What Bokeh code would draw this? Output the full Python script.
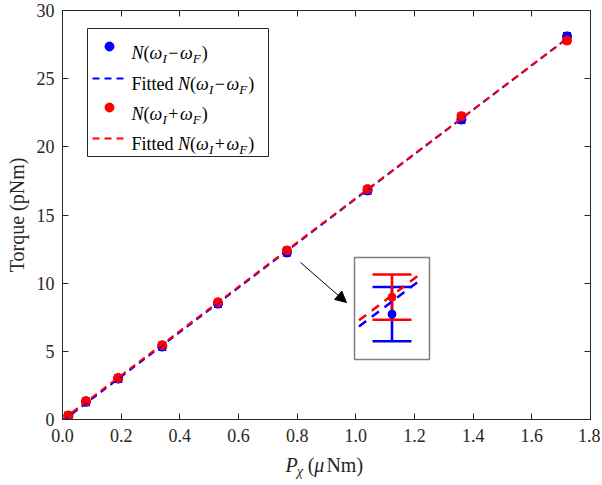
import numpy as np
from bokeh.plotting import figure
from bokeh.layouts import column
from bokeh.models import LinearAxis, FixedTicker, Range1d, Label, Arrow, NormalHead
from bokeh.embed import file_html
from bokeh.resources import INLINE

# ---------------- data ----------------
power = [0.02, 0.08, 0.19, 0.34, 0.53, 0.765, 1.04, 1.36, 1.72]          # P_chi (uNm)
torque_minus = [0.25, 1.30, 3.00, 5.35, 8.50, 12.25, 16.80, 22.00, 28.10]  # N(wI-wF)
torque_plus = [0.30, 1.35, 3.05, 5.45, 8.60, 12.40, 16.90, 22.25, 27.80]   # N(wI+wF)
err_minus = [0.24, 0.24, 0.24, 0.24, 0.24, 0.24, 0.24, 0.24, 0.24]
err_plus = [0.20, 0.20, 0.20, 0.20, 0.20, 0.20, 0.20, 0.20, 0.20]
x_ticks = [0.0, 0.2, 0.4, 0.6, 0.8, 1.0, 1.2, 1.4, 1.6, 1.8]
x_tick_labels = ["0.0", "0.2", "0.4", "0.6", "0.8", "1.0", "1.2", "1.4", "1.6", "1.8"]
y_ticks = [0, 5, 10, 15, 20, 25, 30]
inset_index = 5            # point shown zoomed in the inset

# ---------------- layout / style ----------------
FONT = "Liberation Serif"
AX = "#262626"
BLUE = "#0000ff"
RED = "#ff0000"
X0, X1, Y0, Y1 = 0.0, 1.8, 0.0, 30.0
W = 600
H_MAIN, H_STRIP = 452, 32
FL, FT, FR, FB = 62, 10, 590, 419      # frame edges on the canvas (px)
FW, FH = FR - FL, FB - FT


def dx(px):
    return X0 + (px - FL) / FW * (X1 - X0)


def dy(py):
    return Y0 + (FB - py) / FH * (Y1 - Y0)


p = figure(width=W, height=H_MAIN, x_range=Range1d(X0, X1), y_range=Range1d(Y0, Y1),
           output_backend="svg", toolbar_location=None, title=None,
           min_border_left=FL, min_border_right=W - FR, min_border_top=FT,
           min_border_bottom=H_MAIN - FB)
p.xgrid.visible = False
p.ygrid.visible = False
p.outline_line_color = AX
p.outline_line_width = 1
p.background_fill_color = "white"
p.border_fill_color = "white"


def style_axis(ax, ticks, labels=True):
    ax.ticker = FixedTicker(ticks=ticks)
    ax.major_tick_in = 6
    ax.major_tick_out = 0
    ax.minor_tick_line_color = None
    ax.axis_line_color = AX
    ax.major_tick_line_color = AX
    ax.major_label_text_font = FONT
    ax.major_label_text_color = AX
    if labels:
        ax.major_label_text_font_size = "18px"
    else:
        ax.major_label_overrides = {t: "" for t in ticks}
        ax.major_label_text_font_size = "1px"
        ax.major_label_standoff = 0


style_axis(p.xaxis[0], x_ticks)
p.xaxis[0].major_label_overrides = {t: s for t, s in zip(x_ticks, x_tick_labels)}
p.xaxis[0].major_label_standoff = 9
style_axis(p.yaxis[0], y_ticks)
p.yaxis[0].major_label_standoff = 8
p.yaxis[0].axis_label = "Torque (pNm)"
p.yaxis[0].axis_label_text_font = FONT
p.yaxis[0].axis_label_text_font_style = "normal"
p.yaxis[0].axis_label_text_font_size = "20px"
p.yaxis[0].axis_label_text_color = AX
p.yaxis[0].axis_label_standoff = 6

top_ax = LinearAxis()
style_axis(top_ax, x_ticks, labels=False)
p.add_layout(top_ax, "above")
right_ax = LinearAxis()
style_axis(right_ax, y_ticks, labels=False)
p.add_layout(right_ax, "right")

# ---------------- linear least-squares fits ----------------
k_minus, b_minus = np.polyfit(power, torque_minus, 1)
k_plus, b_plus = np.polyfit(power, torque_plus, 1)
fit_x = [0.0, max(power)]


def fit_minus(v):
    return k_minus * v + b_minus


def fit_plus(v):
    return k_plus * v + b_plus


def draw_bars(xs, ys, es, color, cap, bar_w):
    lo = [y - e for y, e in zip(ys, es)]
    hi = [y + e for y, e in zip(ys, es)]
    p.segment(x0=xs, y0=lo, x1=xs, y1=hi, line_color=color, line_width=bar_w)
    p.scatter(x=list(xs) + list(xs), y=lo + hi, marker="dash", size=cap, line_color=color,
              line_width=bar_w)


# main error bars and points
draw_bars(power, torque_minus, err_minus, BLUE, 8, 2.2)
draw_bars(power, torque_plus, err_plus, RED, 8, 2.2)
p.scatter(power, torque_minus, size=9, color=BLUE)
p.scatter(power, torque_plus, size=9, color=RED)
p.line(fit_x, [fit_minus(v) for v in fit_x], line_color=BLUE, line_width=2, line_dash="7 5")
p.line(fit_x, [fit_plus(v) for v in fit_x], line_color=RED, line_width=2, line_dash="7 5")

# ---------------- inset (zoom of one point) ----------------
BOX_L, BOX_R, BOX_T, BOX_B = 354, 429, 257, 359
ZOOM = 8.3
xc, yc = power[inset_index], 12.30
bxc, byc = dx((BOX_L + BOX_R) / 2), dy((BOX_T + BOX_B) / 2)


def ix(v):
    return bxc + (v - xc) * ZOOM


def iy(v):
    return byc + (v - yc) * ZOOM


p.quad(left=[dx(BOX_L)], right=[dx(BOX_R)], top=[dy(BOX_T)], bottom=[dy(BOX_B)],
       fill_color="white", line_color="#7f7f7f", line_width=1.5)
xi = power[inset_index]
for ys, es, col in ((torque_minus, err_minus, BLUE), (torque_plus, err_plus, RED)):
    y, e = ys[inset_index], es[inset_index]
    p.segment(x0=[ix(xi)], y0=[iy(y - e)], x1=[ix(xi)], y1=[iy(y + e)], line_color=col, line_width=2.6)
    p.scatter(x=[ix(xi), ix(xi)], y=[iy(y - e), iy(y + e)], marker="dash", size=39,
              line_color=col, line_width=2.6)
p.scatter([ix(xi)], [iy(torque_minus[inset_index])], size=8, color=BLUE)
p.scatter([ix(xi)], [iy(torque_plus[inset_index])], size=8, color=RED)
half_w = (dx(BOX_R) - dx(BOX_L)) / 2 / ZOOM
seg_x = [xc - 0.88 * half_w, xc + 0.82 * half_w]
for f, col in ((fit_minus, BLUE), (fit_plus, RED)):
    p.line([ix(v) for v in seg_x], [iy(f(v)) for v in seg_x], line_color=col, line_width=2.5,
           line_dash="9 7")

p.add_layout(Arrow(end=NormalHead(size=11, fill_color="black", line_color="black"),
                   x_start=dx(300), y_start=dy(262), x_end=dx(346), y_end=dy(302),
                   line_color="black", line_width=1))

# ---------------- rich text helper ----------------
REG = {'F': .556, 'i': .278, 't': .278, 'e': .444, 'd': .5, ' ': .25, '(': .333, ')': .333,
       '−': .564, '+': .564, 'N': .722, 'm': .778, 'μ': .576, 'p': .5}
ITA = {'N': .667, 'ω': .69, 'I': .333, 'F': .611, 'P': .611, 'χ': .55, 'μ': .58}


def rich(fig, mx, my, x_px, base_px, pieces, size, color):
    x = x_px
    for text, italic, sub, pad in pieces:
        fs = size * 0.72 if sub else size
        shift = size * 0.33 if sub else 0
        x += pad
        fig.add_layout(Label(x=mx(x), y=my(base_px + shift), text=text, text_font=FONT,
                             text_font_size=f"{fs:.1f}px",
                             text_font_style="italic" if italic else "normal",
                             text_color=color, text_align="left", text_baseline="alphabetic"))
        table = ITA if italic else REG
        x += sum(table.get(c, 0.5) for c in text) * fs


def n_label(sign):
    return [("N", True, False, 0), ("(", False, False, 0), ("ω", True, False, 0),
            ("I", True, True, 0.5), (sign, False, False, 1.5), ("ω", True, False, 1.5),
            ("F", True, True, 0.5), (")", False, False, 1)]


# ---------------- legend ----------------
LEG_L, LEG_R, LEG_T, LEG_B = 87, 268, 28, 156
p.quad(left=[dx(LEG_L)], right=[dx(LEG_R)], top=[dy(LEG_T)], bottom=[dy(LEG_B)],
       fill_color="white", line_color=AX, line_width=1)
rows = [46, 77, 107, 137]
p.scatter([dx(109)], [dy(rows[0])], size=9, color=BLUE)
p.line([dx(92), dx(128)], [dy(rows[1] + 1)] * 2, line_color=BLUE, line_width=2, line_dash="7 5")
p.scatter([dx(109)], [dy(rows[2])], size=9, color=RED)
p.line([dx(92), dx(128)], [dy(rows[3] + 1)] * 2, line_color=RED, line_width=2, line_dash="7 5")
TX = 131
rich(p, dx, dy, TX, rows[0] + 6, n_label("−"), 18, "black")
rich(p, dx, dy, TX, rows[1] + 6, [("Fitted ", False, False, 0)] + n_label("−"), 18, "black")
rich(p, dx, dy, TX, rows[2] + 6, n_label("+"), 18, "black")
rich(p, dx, dy, TX, rows[3] + 6, [("Fitted ", False, False, 0)] + n_label("+"), 18, "black")

# ---------------- x axis label (strip below the plot, frame aligned with the main frame) ----
s = figure(width=W, height=H_STRIP, x_range=Range1d(X0, X1), y_range=Range1d(H_STRIP, 0),
           output_backend="svg", toolbar_location=None, title=None,
           x_axis_type=None, y_axis_type=None, min_border=0,
           min_border_left=FL, min_border_right=W - FR, min_border_top=0, min_border_bottom=0)
s.xgrid.visible = False
s.ygrid.visible = False
s.outline_line_color = None
s.border_fill_color = "white"
s.background_fill_color = "white"


def sy(py):
    return py - H_MAIN


rich(s, dx, sy, 285, 464, [("P", True, False, 0), ("χ", True, True, -1), ("(", False, False, 3),
                           ("μ", True, False, 0), ("Nm)", False, False, 0.5)], 20, AX)

layout = column(p, s, spacing=0)
open("out.html", "w").write(file_html(layout, INLINE))
